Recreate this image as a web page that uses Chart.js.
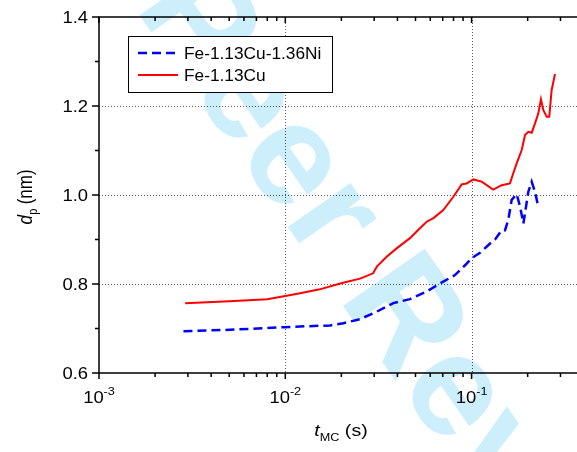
<!DOCTYPE html>
<html lang="en">
<head>
<meta charset="UTF-8">
<title>dp vs tMC</title>
<script src="https://cdn.jsdelivr.net/npm/chart.js"></script>
<style>
  body { margin: 0; background: #fff; }
</style>
</head>
<body>
<canvas id="grafica" width="577" height="452"></canvas>
<script>
// series
const seriesNames = ['Fe-1.13Cu-1.36Ni', 'Fe-1.13Cu'];

const tCuNi = [0.00284, 0.00505, 0.00975, 0.0174, 0.0205, 0.0252, 0.0310, 0.0380, 0.0467, 0.0574,
               0.0676, 0.0814, 0.0941, 0.100, 0.111, 0.1256, 0.1337, 0.1452, 0.1512, 0.1574,
               0.1641, 0.1746, 0.1820, 0.1897, 0.1960, 0.2016, 0.2102, 0.2190, 0.2280];
const dCuNi = [0.694, 0.697, 0.703, 0.707, 0.712, 0.721, 0.738, 0.757, 0.766, 0.783,
               0.801, 0.820, 0.846, 0.858, 0.870, 0.891, 0.900, 0.921, 0.921, 0.944,
               0.989, 1.002, 0.974, 0.936, 0.974, 1.007, 1.030, 1.007, 0.974];

const tCu = [0.0029, 0.005, 0.008, 0.010, 0.012, 0.0153, 0.0204, 0.0252, 0.0296, 0.0310,
             0.035, 0.0396, 0.0467, 0.0507, 0.0574, 0.0624, 0.0705, 0.0798, 0.0885, 0.0941,
             0.1021, 0.1132, 0.1306, 0.1452, 0.1607, 0.1674, 0.1746, 0.1858, 0.1936, 0.2016,
             0.2102, 0.2190, 0.2280, 0.2357, 0.2425, 0.2530, 0.2612, 0.2690, 0.2805];
const dCu = [0.757, 0.761, 0.766, 0.773, 0.779, 0.788, 0.803, 0.812, 0.824, 0.839,
             0.861, 0.880, 0.903, 0.918, 0.940, 0.948, 0.966, 0.996, 1.024, 1.026,
             1.035, 1.030, 1.012, 1.022, 1.026, 1.049, 1.071, 1.101, 1.135, 1.142,
             1.140, 1.161, 1.183, 1.215, 1.191, 1.176, 1.176, 1.236, 1.272];

// axes
const xDecades = [0.001, 0.01, 0.1];
const xExponents = ['-3', '-2', '-1'];
const xMax = 0.368;
const yTicks = [0.6, 0.8, 1.0, 1.2, 1.4];
const yMinor = [0.7, 0.9, 1.1, 1.3];

const FUENTE = '"Liberation Sans", Arial, sans-serif';
const SX = 1.15; // the reference text is a bit wide

const xMinor = [];
xDecades.forEach(d => {
  for (let k = 2; k <= 9; k++) if (k * d <= xMax) xMinor.push(k * d);
});

function texto(ctx, str, x, y, size, align, style, sx) {
  ctx.save();
  ctx.font = (style || '') + ' ' + size + 'px ' + FUENTE;
  ctx.translate(x, y);
  ctx.scale(sx || SX, 1);
  ctx.textAlign = align || 'left';
  ctx.textBaseline = 'alphabetic';
  ctx.fillText(str, 0, 0);
  ctx.restore();
}
function ancho(ctx, str, size, style) {
  ctx.font = (style || '') + ' ' + size + 'px ' + FUENTE;
  return ctx.measureText(str).width * SX;
}

const decoracion = {
  id: 'decoracion',
  beforeDraw(chart) {
    const ctx = chart.ctx;
    ctx.save();
    ctx.fillStyle = '#fff';
    ctx.fillRect(0, 0, chart.width, chart.height);
    // watermark
    ctx.translate(-23, -217);
    ctx.rotate(55 * Math.PI / 180);
    ctx.font = 'bold 145px ' + FUENTE;
    ctx.fillStyle = '#cdeefb';
    ctx.fillText('For Peer Review', 0, 0);
    ctx.restore();
  },
  beforeDatasetsDraw(chart) {
    const ctx = chart.ctx, a = chart.chartArea;
    const x = chart.scales.x, y = chart.scales.y;
    ctx.save();
    ctx.strokeStyle = 'rgba(0,0,0,0.65)';
    ctx.lineWidth = 1;
    ctx.setLineDash([1, 2]);
    xDecades.slice(1).forEach(v => {
      const px = Math.round(x.getPixelForValue(v)) + 0.5;
      ctx.beginPath(); ctx.moveTo(px, a.top); ctx.lineTo(px, a.bottom); ctx.stroke();
    });
    yTicks.slice(1, -1).forEach(v => {
      const py = Math.round(y.getPixelForValue(v)) + 0.5;
      ctx.beginPath(); ctx.moveTo(a.left, py); ctx.lineTo(a.right, py); ctx.stroke();
    });
    ctx.restore();
  },
  afterDatasetsDraw(chart) {
    const ctx = chart.ctx, a = chart.chartArea;
    const x = chart.scales.x, y = chart.scales.y;
    ctx.save();
    ctx.strokeStyle = '#000';
    ctx.fillStyle = '#000';
    ctx.lineWidth = 1.5;
    // frame
    ctx.beginPath();
    ctx.moveTo(a.right, a.top); ctx.lineTo(a.left, a.top);
    ctx.lineTo(a.left, a.bottom); ctx.lineTo(a.right, a.bottom);
    ctx.stroke();
    // x ticks, bottom outward and top inward
    const tickX = (v, len) => {
      const px = x.getPixelForValue(v);
      ctx.beginPath();
      ctx.moveTo(px, a.bottom); ctx.lineTo(px, a.bottom + len);
      ctx.moveTo(px, a.top); ctx.lineTo(px, a.top + len);
      ctx.stroke();
    };
    xDecades.forEach(v => tickX(v, 6));
    xMinor.forEach(v => tickX(v, 4));
    // y ticks, outward
    const tickY = (v, len) => {
      const py = y.getPixelForValue(v);
      ctx.beginPath(); ctx.moveTo(a.left, py); ctx.lineTo(a.left - len, py); ctx.stroke();
    };
    yTicks.forEach(v => tickY(v, 7));
    yMinor.forEach(v => tickY(v, 4));

    // y tick labels
    yTicks.forEach(v => texto(ctx, v.toFixed(1), a.left - 11, y.getPixelForValue(v) + 6, 16, 'right'));
    // x tick labels 10^n
    xDecades.forEach((v, i) => {
      const px = x.getPixelForValue(v);
      const w1 = ancho(ctx, '10', 16), w2 = ancho(ctx, xExponents[i], 11);
      const x0 = px - (w1 + w2) / 2;
      texto(ctx, '10', x0, a.bottom + 30, 16);
      texto(ctx, xExponents[i], x0 + w1, a.bottom + 22, 11);
    });

    // x title: t_MC (s)
    {
      const w1 = ancho(ctx, 't', 17, 'italic'), w2 = ancho(ctx, 'MC', 11), w3 = ancho(ctx, ' (s)', 17);
      const x0 = 341 - (w1 + w2 + w3) / 2, base = 436;
      texto(ctx, 't', x0, base, 17, 'left', 'italic');
      texto(ctx, 'MC', x0 + w1, base + 5, 11);
      texto(ctx, ' (s)', x0 + w1 + w2, base, 17);
    }
    // y title: d_p (nm)
    {
      ctx.save();
      ctx.translate(32, 197);
      ctx.rotate(-Math.PI / 2);
      ctx.scale(1, SX);
      ctx.textBaseline = 'alphabetic';
      ctx.font = 'italic 17px ' + FUENTE;
      const w1 = ctx.measureText('d').width;
      ctx.font = '11px ' + FUENTE;
      const w2 = ctx.measureText('p').width;
      ctx.font = '17px ' + FUENTE;
      const w3 = ctx.measureText(' (nm)').width;
      const x0 = -(w1 + w2 + w3) / 2;
      ctx.font = 'italic 17px ' + FUENTE;
      ctx.fillText('d', x0, 0);
      ctx.font = '11px ' + FUENTE;
      ctx.fillText('p', x0 + w1 + 0.5, 4);
      ctx.font = '17px ' + FUENTE;
      ctx.fillText(' (nm)', x0 + w1 + w2, 0);
      ctx.restore();
    }

    // legend
    ctx.lineWidth = 1;
    ctx.fillStyle = '#fff';
    ctx.fillRect(128.5, 36.5, 204, 56);
    ctx.strokeRect(128.5, 36.5, 204, 56);
    chart.data.datasets.forEach((ds, i) => {
      const ly = 53 + i * 22;
      ctx.save();
      ctx.strokeStyle = ds.borderColor;
      ctx.lineWidth = ds.borderWidth;
      ctx.setLineDash(ds.borderDash || []);
      ctx.beginPath(); ctx.moveTo(138, ly); ctx.lineTo(178, ly); ctx.stroke();
      ctx.restore();
      ctx.fillStyle = '#000';
      texto(ctx, ds.label, 184, ly + 6, 16, 'left', '', 1.08);
    });
    ctx.restore();
  }
};

new Chart(document.getElementById('grafica'), {
  type: 'line',
  data: {
    datasets: [
      {
        label: seriesNames[0],
        data: tCuNi.map((t, i) => ({ x: t, y: dCuNi[i] })),
        borderColor: '#0000ff',
        borderWidth: 2.5,
        borderDash: [9, 5],
        pointRadius: 0,
        tension: 0
      },
      {
        label: seriesNames[1],
        data: tCu.map((t, i) => ({ x: t, y: dCu[i] })),
        borderColor: '#ff0000',
        borderWidth: 2,
        pointRadius: 0,
        tension: 0
      }
    ]
  },
  options: {
    responsive: false,
    animation: false,
    layout: { padding: { left: 99, top: 17, right: 0, bottom: 79 } },
    plugins: { legend: { display: false }, tooltip: { enabled: false } },
    scales: {
      x: { type: 'logarithmic', min: 0.001, max: xMax, display: false },
      y: { type: 'linear', min: 0.6, max: 1.4, display: false }
    }
  },
  plugins: [decoracion]
});
</script>
</body>
</html>
